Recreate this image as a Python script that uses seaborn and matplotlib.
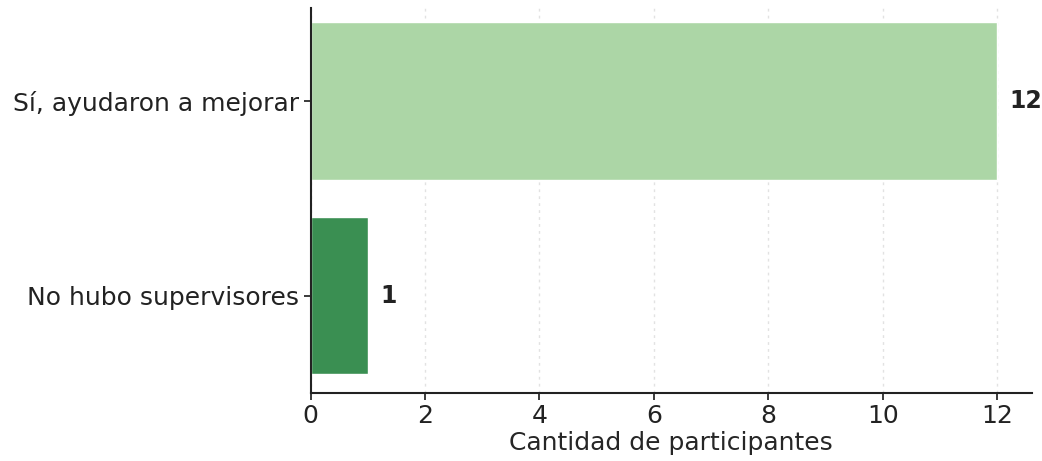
import matplotlib
matplotlib.use("Agg")
import matplotlib.pyplot as plt
import seaborn as sns
import pandas as pd

categorias = ["Sí, ayudaron a mejorar", "No hubo supervisores"]
participantes = [12, 1]
colores = ["#acd6a6", "#3a8f52"]

df = pd.DataFrame({"respuesta": categorias, "cantidad": participantes})

sns.set_theme(style="white")
plt.rcParams["font.family"] = ["DejaVu Sans"]

fig, ax = plt.subplots(figsize=(10.42, 4.61), dpi=100)
sns.barplot(data=df, x="cantidad", y="respuesta", hue="respuesta",
            palette=colores, legend=False, width=0.81, ax=ax, saturation=1)

for i, v in enumerate(participantes):
    ax.text(v + 0.22, i, str(v), va="center", ha="left",
            fontsize=17, fontweight="bold", color="#222222")

ax.set_xlim(0, 12.6)
ax.set_ylim(1.5, -0.48)
ax.set_xticks([0, 2, 4, 6, 8, 10, 12])
ax.set_xlabel("Cantidad de participantes", fontsize=18, labelpad=2)
ax.set_ylabel("")
ax.tick_params(axis="both", labelsize=18, length=5, direction="out",
               bottom=True, left=True, colors="#222222", pad=3)
ax.xaxis.grid(True, linestyle=(0, (2, 3)), color="#e2e2e2", linewidth=1)
ax.set_axisbelow(True)
sns.despine(ax=ax)
for s in ["left", "bottom"]:
    ax.spines[s].set_color("#222222")
    ax.spines[s].set_linewidth(1.5)

fig.subplots_adjust(left=0.298, right=0.99, top=0.983, bottom=0.148)
fig.savefig("out.png", dpi=100)
